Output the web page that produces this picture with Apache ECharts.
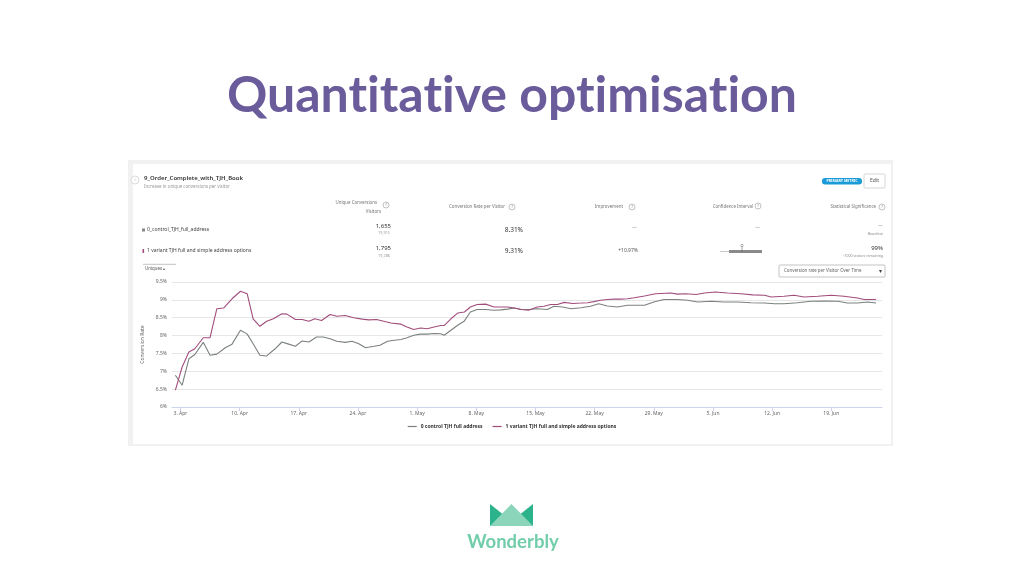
<!DOCTYPE html>
<html>
<head>
<meta charset="utf-8">
<title>Quantitative optimisation</title>
<script src="https://cdn.jsdelivr.net/npm/echarts/dist/echarts.min.js"></script>
<style>
  html, body { margin: 0; padding: 0; background: #fff; }
  #slide { width: 1024px; height: 576px; }
</style>
</head>
<body>
<div id="slide"></div>
<script>
  // x values are days counted from 3 Apr (first weekly tick)
  var tickDays = [0, 7, 14, 21, 28, 35, 42, 49, 56, 63, 70, 77];
  var tickLabels = ['3. Apr', '10. Apr', '17. Apr', '24. Apr', '1. May', '8. May',
    '15. May', '22. May', '29. May', '5. Jun', '12. Jun', '19. Jun'];

  var seriesNames = ['0 control TJH full address', '1 variant TJH full and simple address options'];

  var controlDays = [-0.6, 0.2, 1.0, 1.7, 2.7, 3.5, 4.3, 5.3, 6.1, 7.1, 7.9, 8.6, 9.4, 10.2, 11.2, 12.0,
    12.8, 13.6, 14.4, 15.2, 16.1, 16.9, 17.7, 18.5, 19.5, 20.3, 21.1, 21.9, 22.9, 23.6,
    24.5, 25.3, 26.1, 26.8, 27.6, 28.4, 29.2, 30.0, 30.8, 31.2, 32.0, 32.8, 33.6, 34.3, 35.1,
    36.1, 37.1, 37.9, 38.7, 39.5, 40.3, 41.2, 42.2, 43.4, 44.2, 45.2, 46.2, 47.4, 48.5, 49.5,
    50.5, 51.7, 52.9, 54.9, 56.0, 57.2, 58.8, 60.0, 61.2, 62.8, 64.3, 65.9, 67.5, 69.1, 70.3,
    71.4, 73.0, 74.6, 76.2, 77.8, 78.9, 80.1, 81.3, 82.3];
  var controlRate = [6.89, 6.61, 7.35, 7.47, 7.81, 7.45, 7.48, 7.66, 7.76, 8.15, 8.04, 7.77, 7.45, 7.43, 7.63, 7.82,
    7.76, 7.70, 7.85, 7.82, 7.96, 7.96, 7.91, 7.84, 7.81, 7.84, 7.77, 7.66, 7.70, 7.73,
    7.84, 7.87, 7.89, 7.94, 8.01, 8.04, 8.04, 8.06, 8.05, 8.01, 8.15, 8.29, 8.41, 8.66, 8.73,
    8.73, 8.71, 8.72, 8.74, 8.77, 8.73, 8.73, 8.75, 8.73, 8.82, 8.80, 8.75, 8.78, 8.82, 8.89,
    8.83, 8.80, 8.85, 8.85, 8.94, 9.01, 9.01, 8.99, 8.94, 8.96, 8.94, 8.94, 8.92, 8.91, 8.89,
    8.89, 8.92, 8.96, 8.97, 8.96, 8.91, 8.91, 8.94, 8.91];

  var variantDays = [-0.6, 0.2, 1.0, 1.7, 2.7, 3.5, 4.3, 5.1, 6.1, 7.1, 7.9, 8.6, 9.4, 10.2, 11.0, 12.0,
    12.6, 13.6, 14.4, 15.2, 15.9, 16.7, 17.7, 18.5, 19.5, 20.5, 21.5, 22.3, 23.2,
    24.9, 26.1, 26.8, 27.6, 28.4, 29.2, 30.0, 30.8, 31.2, 32.0, 32.8, 33.6, 34.3, 35.1, 36.1,
    37.1, 37.9, 38.7, 39.5, 40.3, 41.2, 42.2, 43.0, 43.8, 44.6, 45.4, 46.4, 47.4, 48.2, 48.9,
    49.7, 50.5, 51.3, 52.1, 52.9, 53.7, 54.9, 56.2, 58.0, 58.8, 59.8, 61.0, 62.0, 63.3, 64.7,
    66.3, 67.7, 69.1, 69.9, 71.4, 72.6, 73.8, 75.4, 77.0, 78.5, 80.1, 80.9, 82.3];
  var variantRate = [6.47, 7.12, 7.54, 7.63, 7.94, 7.94, 8.75, 8.77, 9.03, 9.24, 9.17, 8.47, 8.26, 8.40, 8.47, 8.61,
    8.60, 8.45, 8.45, 8.40, 8.47, 8.42, 8.59, 8.54, 8.56, 8.50, 8.46, 8.44, 8.45,
    8.35, 8.32, 8.24, 8.17, 8.21, 8.19, 8.24, 8.28, 8.28, 8.47, 8.63, 8.66, 8.80, 8.87, 8.88,
    8.80, 8.80, 8.80, 8.77, 8.73, 8.71, 8.80, 8.82, 8.87, 8.87, 8.93, 8.90, 8.91, 8.92, 8.95,
    8.99, 9.01, 9.02, 9.02, 9.03, 9.06, 9.11, 9.17, 9.19, 9.16, 9.17, 9.15, 9.19, 9.22, 9.19,
    9.17, 9.14, 9.13, 9.08, 9.10, 9.13, 9.08, 9.10, 9.13, 9.10, 9.05, 9.01, 9.01];

  var colors = ['#7b817e', '#a14d7c'];
  var uiFont = 'Noto Sans';

  function zip(xs, ys) {
    return xs.map(function (x, i) { return [x, ys[i]]; });
  }

  // small helper for the screenshot's text bits
  function txt(x, y, text, size, color, align, weight) {
    return {
      type: 'text', x: x, y: y, silent: true,
      style: {
        text: text, fill: color || '#555', align: align || 'left', verticalAlign: 'middle',
        font: (weight || 'normal') + ' ' + size + 'px "' + uiFont + '"'
      }
    };
  }
  function help(x, y) {
    return {
      type: 'group', x: x, y: y, children: [
        { type: 'circle', shape: { cx: 0, cy: 0, r: 3 }, style: { fill: '#fff', stroke: '#999', lineWidth: 0.6 } },
        txt(0, 0.2, '?', 4, '#888', 'center')
      ]
    };
  }

  var myChart = echarts.init(document.getElementById('slide'));

  var elements = [
    // title (zero-width non-joiners keep the "ti" pairs from fusing into ligatures)
    {
      type: 'text', x: 512, y: 96,
      style: { text: 'Quant\u200Cit\u200Cat\u200Cive opt\u200Cimisat\u200Cion', fill: '#6a5c9b', align: 'center', verticalAlign: 'middle',
        font: 'bold 50px Lato' }
    },
    // screenshot panel
    { type: 'rect', z: -10, shape: { x: 128, y: 160, width: 765, height: 286 }, style: { fill: '#f1f1f1' } },
    { type: 'rect', z: -9, shape: { x: 133, y: 164, width: 758, height: 280 }, style: { fill: '#fff' } },
    { type: 'circle', shape: { cx: 135, cy: 180, r: 4 }, style: { fill: '#fff', stroke: '#ccc', lineWidth: 0.7 } },
    txt(135, 180, '‹', 5, '#aaa', 'center'),
    txt(144, 178, '9_Order_Complete_with_TJH_Book', 6, '#333', 'left', '600'),
    txt(144, 187, 'Increase in unique conversions per visitor', 4.4, '#999'),
    { type: 'rect', shape: { x: 822, y: 178, width: 40, height: 6.5, r: 3 }, style: { fill: '#1a9bd7' } },
    txt(842, 181.4, 'PRIMARY METRIC', 3.6, '#fff', 'center', 'bold'),
    { type: 'rect', shape: { x: 864, y: 174, width: 21, height: 14, r: 1 }, style: { fill: '#fff', stroke: '#ccc', lineWidth: 0.8 } },
    txt(874.5, 181, 'Edit', 5, '#555', 'center'),

    // table header
    txt(377, 203, 'Unique Conversions', 4.4, '#777', 'right'),
    help(386, 205),
    txt(381, 212, 'Visitors', 4.4, '#777', 'right'),
    txt(505, 207, 'Conversion Rate per Visitor', 4.4, '#777', 'right'),
    help(512, 207),
    txt(623, 207, 'Improvement', 4.4, '#777', 'right'),
    help(632, 207),
    txt(753, 207, 'Confidence Interval', 4.4, '#777', 'right'),
    help(758, 206),
    txt(876, 207, 'Statistical Significance', 4.4, '#777', 'right'),
    help(882, 207),

    // row: control
    { type: 'rect', shape: { x: 142, y: 228.5, width: 3, height: 3 }, style: { fill: '#888' } },
    txt(147, 230, '0_control_TJH_full_address', 5, '#444'),
    txt(391, 226, '1,655', 6, '#333', 'right'),
    txt(390, 233, '19,915', 3.8, '#999', 'right'),
    txt(523, 230, '8.31%', 6.5, '#333', 'right'),
    txt(637, 228, '—', 5, '#999', 'right'),
    txt(760, 228, '—', 5, '#999', 'right'),
    txt(883, 226, '—', 5, '#999', 'right'),
    txt(883, 234, 'Baseline', 3.8, '#888', 'right'),

    // row: variant
    { type: 'rect', shape: { x: 142.5, y: 249, width: 1.6, height: 4 }, style: { fill: colors[1] } },
    txt(147, 251, '1 variant TJH full and simple address options', 5, '#444'),
    txt(391, 248, '1,795', 6, '#333', 'right'),
    txt(390, 256, '19,286', 3.8, '#999', 'right'),
    txt(523, 251, '9.31%', 6.5, '#333', 'right'),
    txt(638, 251, '+10.97%', 5, '#555', 'right'),
    { type: 'line', shape: { x1: 720, y1: 251.5, x2: 729, y2: 251.5 }, style: { stroke: '#bbb', lineWidth: 0.8 } },
    { type: 'rect', shape: { x: 729, y: 250, width: 33, height: 3 }, style: { fill: '#8a8a8a' } },
    { type: 'line', shape: { x1: 742, y1: 246.5, x2: 742, y2: 252.5 }, style: { stroke: '#666', lineWidth: 0.6 } },
    { type: 'circle', shape: { cx: 742, cy: 245.5, r: 1.2 }, style: { fill: '#fff', stroke: '#666', lineWidth: 0.5 } },
    txt(883, 248, '99%', 6, '#333', 'right'),
    txt(883, 256, '<1000 visitors remaining', 3.5, '#888', 'right'),

    // chart controls
    { type: 'line', shape: { x1: 143, y1: 264.3, x2: 176, y2: 264.3 }, style: { stroke: '#999', lineWidth: 0.6 } },
    txt(145, 268.5, 'Uniques ▴', 4.4, '#555'),
    { type: 'rect', shape: { x: 779, y: 265, width: 106, height: 12, r: 1 }, style: { fill: '#fff', stroke: '#aaa', lineWidth: 0.7 } },
    txt(784, 271, 'Conversion rate per Visitor Over Time', 4.4, '#666'),
    txt(880, 271, '▾', 6, '#444', 'center'),

    // Wonderbly logo
    { type: 'polygon', shape: { points: [[490, 504], [510, 520], [490, 526]] }, style: { fill: '#2db38b' } },
    { type: 'polygon', shape: { points: [[533, 504], [513, 520], [533, 526]] }, style: { fill: '#2db38b' } },
    { type: 'polygon', shape: { points: [[511.5, 504], [533, 526], [490, 526]] }, style: { fill: '#8bd6bb' } },
    {
      type: 'text', x: 513, y: 542,
      style: { text: 'Wonderbly', fill: '#72cdab', align: 'center', verticalAlign: 'middle', font: 'bold 18.5px Lato' }
    }
  ];

  myChart.setOption({
    animation: false,
    color: colors,
    textStyle: { fontFamily: uiFont },
    graphic: { elements: elements },
    grid: { left: 172, right: 142, top: 282, bottom: 169, containLabel: false, outerBoundsMode: 'none' },
    legend: {
      top: 419, left: 'center',
      icon: 'rect', itemWidth: 9, itemHeight: 1.2, itemGap: 10,
      textStyle: { fontSize: 5, color: '#333', fontWeight: 'bold', padding: [0, 0, 0, -1] },
      data: seriesNames
    },
    xAxis: {
      type: 'value', min: -1, max: 83,
      axisLine: { lineStyle: { color: '#ccd6eb', width: 1 } },
      axisTick: { customValues: tickDays, length: 4, lineStyle: { color: '#ccd6eb' } },
      axisLabel: {
        customValues: tickDays, fontSize: 5, color: '#666', margin: 4,
        formatter: function (v) { return tickLabels[tickDays.indexOf(v)]; }
      },
      splitLine: { show: false }
    },
    yAxis: {
      type: 'value', min: 6, max: 9.5, interval: 0.5,
      name: 'Conversion Rate', nameLocation: 'middle', nameGap: 16,
      nameTextStyle: { fontSize: 5, color: '#666' },
      axisLine: { show: false }, axisTick: { show: false },
      axisLabel: { fontSize: 5, color: '#666', margin: 5, formatter: function (v) { return v + '%'; } },
      splitLine: { lineStyle: { color: '#e6e6e6', width: 1 } }
    },
    series: [
      {
        name: seriesNames[0], type: 'line', showSymbol: false,
        lineStyle: { width: 1.1 }, data: zip(controlDays, controlRate)
      },
      {
        name: seriesNames[1], type: 'line', showSymbol: false,
        lineStyle: { width: 1.1 }, data: zip(variantDays, variantRate)
      }
    ]
  });
</script>
</body>
</html>
